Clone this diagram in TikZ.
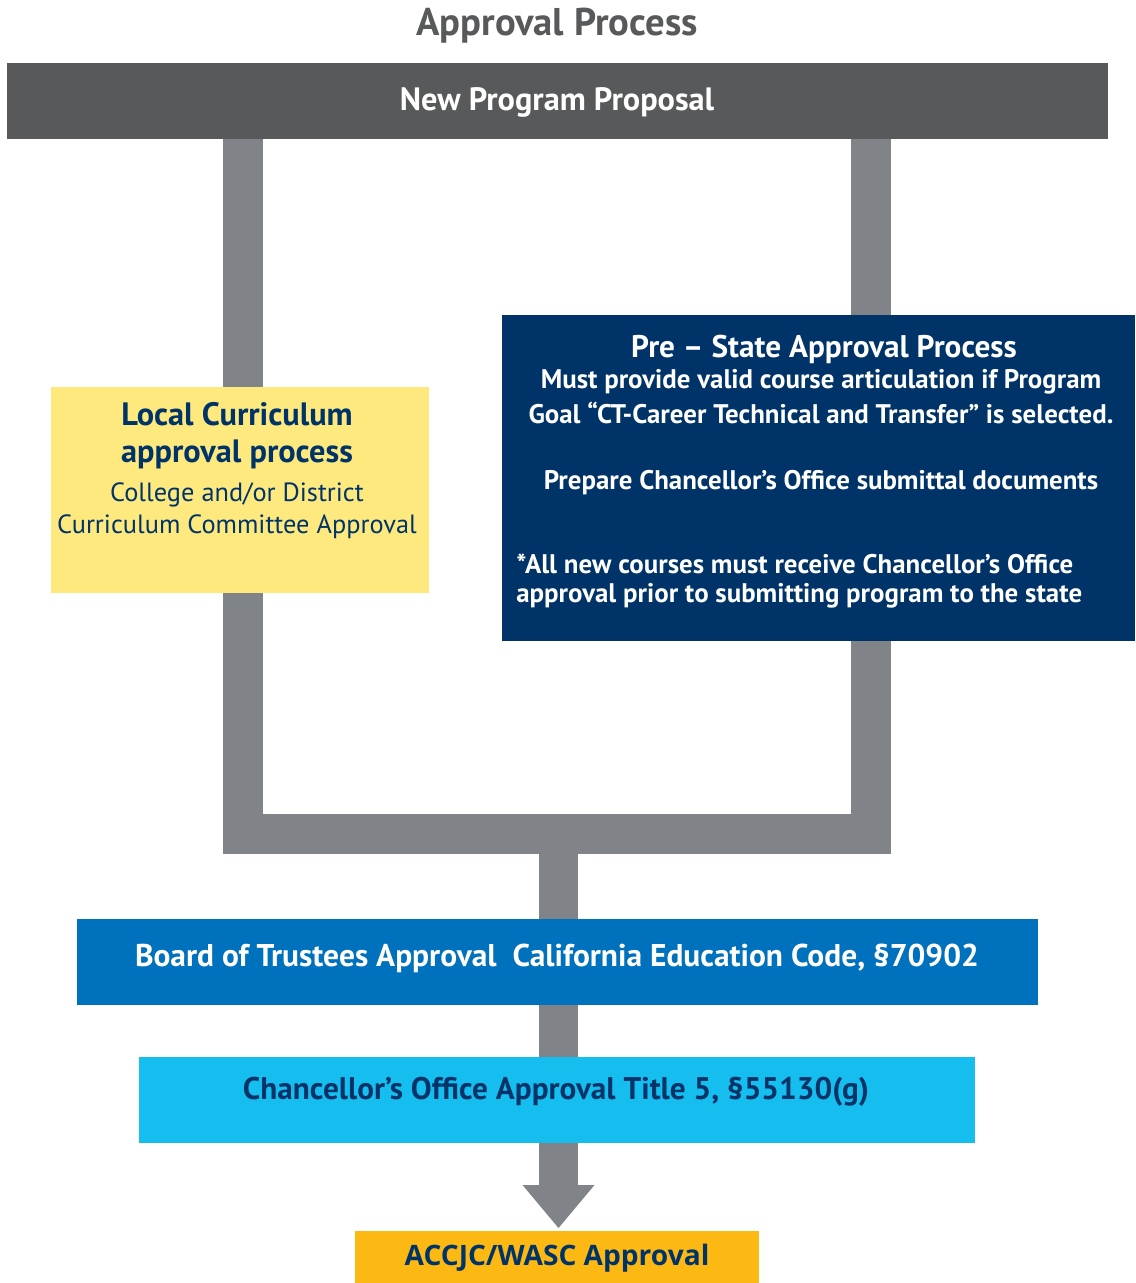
\documentclass[tikz,border=0pt]{standalone}
\usepackage{fontspec}
\setmainfont{PT Sans}
\newfontfamily\accfont{Open Sans}
\usepackage{tikz}
\usetikzlibrary{arrows.meta,calc}
\pgfdeclarelayer{background}
\pgfsetlayers{background,main}
\definecolor{procgray}{RGB}{88,89,91}
\definecolor{bargray}{RGB}{128,131,135}
\definecolor{locyellow}{RGB}{253,233,126}
\definecolor{statenavy}{RGB}{0,51,104}
\definecolor{boardblue}{RGB}{0,113,188}
\definecolor{chancyan}{RGB}{22,190,240}
\definecolor{accorange}{RGB}{252,185,19}

\begin{document}
\begin{tikzpicture}[x=0.02cm, y=-0.02cm,
    box/.style={rectangle, inner sep=0pt, outer sep=0pt},
    lbl/.style={inner sep=0pt, align=center},
    bar/.style={line width=0.8cm, bargray, line join=miter},
    stem/.style={line width=0.78cm, bargray, -{Triangle[width=1.44cm, length=0.86cm, line width=0pt]}}]
  \useasboundingbox (0,0) rectangle (1135,1283);

  \node[lbl, text=procgray, font=\bfseries\fontsize{22}{26}\selectfont] (title) at (557,26) {Approval Process};

  % boxes
  \node[box, fill=procgray, minimum width=22.02cm, minimum height=1.52cm] (npp) at (557.5,101) {};
  \node[box, fill=locyellow, minimum width=7.56cm, minimum height=4.12cm] (local) at (240,490) {};
  \node[box, fill=statenavy, minimum width=12.66cm, minimum height=6.52cm] (state) at (818.5,478) {};
  \node[box, fill=boardblue, minimum width=19.22cm, minimum height=1.72cm] (board) at (557.5,962) {};
  \node[box, fill=chancyan, minimum width=16.72cm, minimum height=1.72cm] (chanc) at (557,1100) {};
  \node[box, fill=accorange, minimum width=8.08cm, minimum height=1.04cm] (accjc) at (557,1257) {};

  % labels
  \node[lbl, text=white, font=\bfseries\fontsize{18.4}{22}\selectfont] (nppl) at (557,102) {New Program Proposal};
  \node[lbl, text=statenavy, font=\bfseries\fontsize{18.4}{22}\selectfont] (locl1) at (237,414) {Local Curriculum};
  \node[lbl, text=statenavy, font=\bfseries\fontsize{18.4}{22}\selectfont] (locl2) at (237,454) {approval process};
  \node[lbl, text=statenavy, font=\fontsize{15}{18}\selectfont] (locl3) at (237,495) {College and/or District};
  \node[lbl, text=statenavy, font=\fontsize{15}{18}\selectfont] (locl4) at (237,527) {Curriculum Committee Approval};
  \node[lbl, text=white, font=\bfseries\fontsize{17.8}{20}\selectfont] (statel1) at (824,349) {Pre -- State Approval Process};
  \node[lbl, text=white, font=\bfseries\fontsize{15.3}{18}\selectfont] (statel2) at (821,382) {Must provide valid course articulation if Program};
  \node[lbl, text=white, font=\bfseries\fontsize{15.3}{18}\selectfont] (statel3) at (821,413) {Goal “CT-Career Technical and Transfer” is selected.};
  \node[lbl, text=white, font=\bfseries\fontsize{15.3}{18}\selectfont] (statel4) at (821,483) {Prepare Chancellor’s Office submittal documents};
  \node[lbl, anchor=west, text=white, font=\bfseries\fontsize{15.3}{18}\selectfont] (statel5) at (516,564) {*All new courses must receive Chancellor’s Office};
  \node[lbl, anchor=west, text=white, font=\bfseries\fontsize{15.3}{18}\selectfont] (statel6) at (516,596) {approval prior to submitting program to the state};
  \node[lbl, text=white, font=\bfseries\fontsize{17.9}{20}\selectfont] (boardl) at (557,958) {Board of Trustees Approval\ \ California Education Code, §70902};
  \node[lbl, text=statenavy, font=\bfseries\fontsize{17.8}{20}\selectfont] (chancl) at (556,1092) {Chancellor’s Office Approval Title 5, §55130(g)};
  \node[lbl, text=statenavy, font=\accfont\bfseries\fontsize{16}{18}\selectfont] (accjcl) at (557,1258) {ACCJC/WASC Approval};

  % connectors
  \coordinate (lft) at (243,833.5);
  \coordinate (rgt) at (870.5,833.5);
  \coordinate (mid) at (558.5,833.5);
  \coordinate (tip) at (558.5,1228);
  \begin{pgfonlayer}{background}
    \draw[bar] (lft |- npp.south) -- (lft) -- (rgt) -- (rgt |- npp.south);
    \draw[stem] (mid) -- (tip);
  \end{pgfonlayer}
\end{tikzpicture}
\end{document}
